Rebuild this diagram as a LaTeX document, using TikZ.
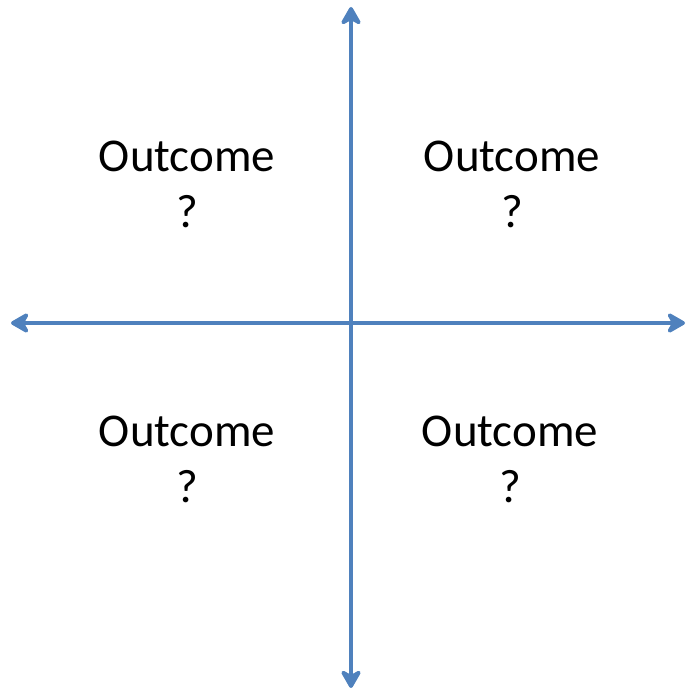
\documentclass[tikz,border=0pt]{standalone}
\usepackage{fontspec}
\setmainfont{Carlito}
\usetikzlibrary{arrows.meta}
\definecolor{axisblue}{HTML}{4F81BD}
\begin{document}
\begin{tikzpicture}[x=1pt,y=1pt,
  axis/.style={draw=axisblue,line width=4.5pt,
    {Stealth[length=22pt,width=25pt,inset=7pt,round]}-{Stealth[length=22pt,width=25pt,inset=7pt,round]}},
  outcome/.style={align=center,inner sep=0pt,anchor=base,
    font=\fontsize{47}{56}\selectfont}]
  \useasboundingbox (0,0) rectangle (686,690);
  % axis end points
  \coordinate (top) at (351,683);
  \coordinate (bottom) at (351,2);
  \coordinate (left) at (11,367);
  \coordinate (right) at (685,367);
  \draw[axis] (bottom) -- (top);
  \draw[axis] (left) -- (right);
  % quadrant labels (anchored at the baseline of the last line)
  \node[outcome] (tl) at (187,462) {Outcome\\?};
  \node[outcome] (tr) at (512,462) {Outcome\\?};
  \node[outcome] (bl) at (187,187) {Outcome\\?};
  \node[outcome] (br) at (510,187) {Outcome\\?};
\end{tikzpicture}
\end{document}
